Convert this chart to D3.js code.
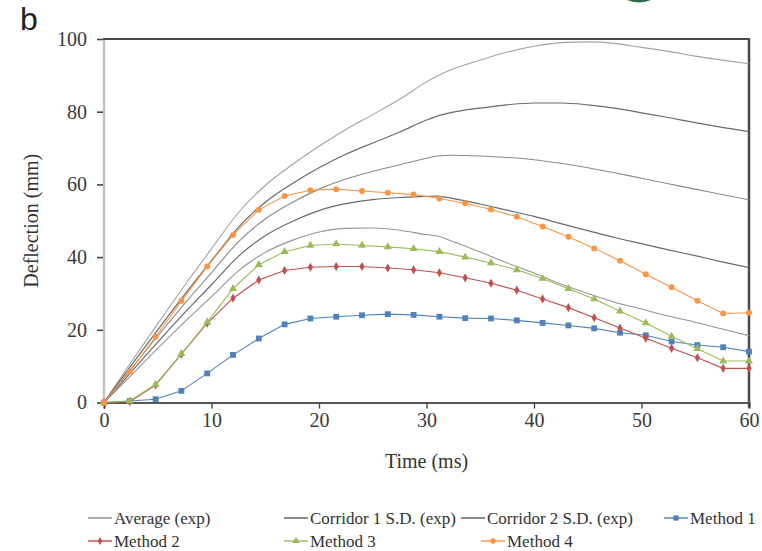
<!DOCTYPE html>
<html>
<head>
<meta charset="utf-8">
<script src="https://cdn.jsdelivr.net/npm/d3@7"></script>
<style>
  html, body { margin: 0; padding: 0; background: #fff; }
  svg { display: block; }
  text { font-family: "Liberation Serif", "Times New Roman", serif; fill: #333; }
</style>
</head>
<body>
<svg id="chart" width="762" height="551"></svg>
<script>
// ---- Experimental corridor (time in ms, deflection in mm) ----
const expTime = [0, 2.5, 5, 7.5, 10, 12.5, 15, 17.5, 20, 22.5, 25, 27.5, 30, 31, 32.5, 35, 37.5, 40, 42.5, 45, 47.5, 50, 52.5, 55, 57.5, 60];
const average = [0, 9.2, 18.3, 27.2, 35.7, 44.2, 50.5, 55, 58.7, 61.5, 63.6, 65.4, 67.2, 67.8, 68.0, 67.8, 67.4, 66.8, 65.8, 64.6, 63.2, 61.7, 60.2, 58.7, 57.2, 55.8];
const corridor1Upper = [0, 10.1, 20, 29.7, 39, 48.2, 55.1, 60.2, 64.6, 68.3, 71.4, 74.4, 77.7, 78.8, 79.9, 81, 81.9, 82.4, 82.4, 81.9, 81, 79.7, 78.4, 77, 75.7, 74.5];
const corridor1Lower = [0, 8.3, 16.6, 24.7, 32.4, 40.2, 45.9, 49.8, 52.8, 54.7, 55.8, 56.4, 56.7, 56.8, 56.1, 54.6, 52.9, 51.2, 49.2, 47.3, 45.4, 43.7, 42, 40.4, 38.7, 37.1];
const corridor2Upper = [0, 11, 21.7, 32.2, 42.3, 52.2, 59.7, 65.4, 70.5, 75.1, 79.2, 83.4, 88.2, 89.8, 91.8, 94.2, 96.4, 98, 99, 99.2, 98.8, 97.7, 96.6, 95.3, 94.2, 93.2];
const corridor2Lower = [0, 7.4, 14.9, 22.2, 29.1, 36.2, 41.3, 44.6, 46.9, 47.9, 48.0, 47.4, 46.2, 45.8, 44.2, 41.4, 38.4, 35.6, 32.6, 30.0, 27.6, 25.7, 23.8, 22.1, 20.2, 18.4];

// ---- Simulated responses, sampled every 2.4 ms ----
const simTime = [0, 2.4, 4.8, 7.2, 9.6, 12, 14.4, 16.8, 19.2, 21.6, 24, 26.4, 28.8, 31.2, 33.6, 36, 38.4, 40.8, 43.2, 45.6, 48, 50.4, 52.8, 55.2, 57.6, 60];
const method1 = [0, 0.4, 0.9, 3.2, 8.0, 13.1, 17.6, 21.5, 23.1, 23.6, 24.0, 24.3, 24.1, 23.6, 23.2, 23.1, 22.6, 21.9, 21.2, 20.4, 19.2, 18.5, 16.8, 15.8, 15.2, 14.0];
const method2 = [0, 0.2, 4.8, 13.3, 21.8, 28.7, 33.7, 36.3, 37.2, 37.4, 37.4, 37.0, 36.5, 35.7, 34.3, 32.8, 30.9, 28.5, 26.1, 23.3, 20.5, 17.7, 14.9, 12.3, 9.4, 9.4];
const method3 = [0, 0.4, 5.0, 13.4, 22.1, 31.3, 37.9, 41.5, 43.2, 43.6, 43.2, 42.8, 42.3, 41.5, 40.0, 38.4, 36.5, 34.1, 31.3, 28.5, 25.1, 21.9, 18.2, 14.8, 11.4, 11.4];
const method4 = [0, 8.5, 18.1, 27.9, 37.4, 46.1, 53.0, 56.8, 58.4, 58.7, 58.2, 57.7, 57.2, 56.1, 54.8, 53.1, 51.1, 48.4, 45.6, 42.4, 39.0, 35.3, 31.7, 28.0, 24.5, 24.7];

// ---- Axis ticks ----
const xTicks = [0, 10, 20, 30, 40, 50, 60];
const yTicks = [0, 20, 40, 60, 80, 100];

const svg = d3.select("#chart");
const plotLeft = 104, plotRight = 749, plotTop = 39, plotBottom = 402.5;

const x = d3.scaleLinear().domain([0, 60]).range([plotLeft, plotRight]);
const y = d3.scaleLinear().domain([0, 100]).range([plotBottom, plotTop]);

// corner logo fragment
svg.append("ellipse").attr("cx", 639).attr("cy", -6).attr("rx", 17).attr("ry", 8.5)
  .attr("fill", "#2f6b47");

// panel letter
svg.append("text").attr("x", 20).attr("y", 30)
  .style("font-family", "'Liberation Sans', Arial, sans-serif")
  .style("font-size", "32px").style("fill", "#222").text("b");

// ---- frame: light left axis, dark top/right border ----
svg.append("line").attr("x1", plotLeft).attr("x2", plotLeft).attr("y1", plotTop).attr("y2", plotBottom)
  .attr("stroke", "#c4c4c4").attr("stroke-width", 2.5);
svg.append("line").attr("x1", plotLeft - 1).attr("x2", plotRight + 1).attr("y1", plotTop).attr("y2", plotTop)
  .attr("stroke", "#4a4a4a").attr("stroke-width", 2.2);
svg.append("line").attr("x1", plotRight).attr("x2", plotRight).attr("y1", plotTop).attr("y2", plotBottom + 5)
  .attr("stroke", "#4a4a4a").attr("stroke-width", 2.5);

// ---- axes ----
const yAxis = svg.append("g").attr("transform", `translate(${plotLeft - 1},0)`)
  .call(d3.axisLeft(y).tickValues(yTicks).tickSize(6).tickPadding(10).tickFormat(d3.format("d")));
yAxis.select(".domain").remove();
yAxis.selectAll(".tick line").attr("stroke", "#444").attr("stroke-width", 1.6);
yAxis.selectAll(".tick text").style("font-size", "20px").style("fill", "#3a3a3a")
  .style("font-family", "'Liberation Serif', serif");

const xAxis = svg.append("g").attr("transform", `translate(0,${plotBottom})`)
  .call(d3.axisBottom(x).tickValues(xTicks).tickSize(6).tickPadding(4).tickFormat(d3.format("d")));
xAxis.select(".domain").attr("stroke", "#555").attr("stroke-width", 2);
xAxis.selectAll(".tick line").attr("stroke", "#444").attr("stroke-width", 1.4);
xAxis.selectAll(".tick text").style("font-size", "20px").style("fill", "#3a3a3a")
  .style("font-family", "'Liberation Serif', serif");

// axis titles
svg.append("text").attr("x", (plotLeft + plotRight) / 2).attr("y", 468)
  .attr("text-anchor", "middle").style("font-size", "20px").text("Time (ms)");
svg.append("text").attr("transform", `translate(38,${(plotTop + plotBottom) / 2}) rotate(-90)`)
  .attr("text-anchor", "middle").style("font-size", "20px").text("Deflection (mm)");

// ---- experimental curves ----
const expLine = d3.line().x((d, i) => x(expTime[i])).y(d => y(d)).curve(d3.curveMonotoneX);
const expSeries = [
  { values: corridor2Upper, color: "#a2a2a2", w: 1.1 },
  { values: corridor2Lower, color: "#959595", w: 1.1 },
  { values: corridor1Upper, color: "#6a6a6a", w: 1.2 },
  { values: corridor1Lower, color: "#6a6a6a", w: 1.2 },
  { values: average, color: "#8a8a8a", w: 1.1 }
];
svg.append("g").selectAll("path").data(expSeries).join("path")
  .attr("d", s => expLine(s.values))
  .attr("fill", "none").attr("stroke", s => s.color).attr("stroke-width", s => s.w);

// ---- simulated curves with markers ----
const methods = [
  { name: "Method 1", values: method1, color: "#4f81bd", shape: d3.symbolSquare, size: 34 },
  { name: "Method 2", values: method2, color: "#c0504d", shape: d3.symbolDiamond, size: 24 },
  { name: "Method 3", values: method3, color: "#9bbb59", shape: d3.symbolTriangle, size: 28 },
  { name: "Method 4", values: method4, color: "#f79646", shape: d3.symbolCircle, size: 28 }
];
const simLine = d3.line().x((d, i) => x(simTime[i])).y(d => y(d));
const mg = svg.append("g");
methods.forEach(m => {
  mg.append("path").attr("d", simLine(m.values))
    .attr("fill", "none").attr("stroke", m.color).attr("stroke-width", 1.1);
  mg.append("g").selectAll("path").data(m.values).join("path")
    .attr("transform", (d, i) => `translate(${x(simTime[i])},${y(d)})`)
    .attr("d", d3.symbol().type(m.shape).size(m.size))
    .attr("fill", m.color);
});

// ---- legend ----
const legendItems = [
  { label: "Average (exp)", color: "#8a8a8a", lx: 88, ly: 518 },
  { label: "Corridor 1 S.D. (exp)", color: "#5a5a5a", lx: 284, ly: 518 },
  { label: "Corridor 2 S.D. (exp)", color: "#5a5a5a", lx: 461, ly: 518 },
  { label: "Method 1", color: methods[0].color, shape: methods[0], lx: 664, ly: 518 },
  { label: "Method 2", color: methods[1].color, shape: methods[1], lx: 88, ly: 541 },
  { label: "Method 3", color: methods[2].color, shape: methods[2], lx: 284, ly: 541 },
  { label: "Method 4", color: methods[3].color, shape: methods[3], lx: 481, ly: 541 }
];
const lg = svg.append("g");
legendItems.forEach(it => {
  lg.append("line").attr("x1", it.lx).attr("x2", it.lx + 24).attr("y1", it.ly).attr("y2", it.ly)
    .attr("stroke", it.color).attr("stroke-width", 1.4);
  if (it.shape) {
    lg.append("path").attr("transform", `translate(${it.lx + 12},${it.ly})`)
      .attr("d", d3.symbol().type(it.shape.shape).size(it.shape.size * 0.8)).attr("fill", it.color);
  }
  lg.append("text").attr("x", it.lx + 26).attr("y", it.ly + 5.5)
    .style("font-size", "17px").style("fill", "#333").text(it.label);
});
</script>
</body>
</html>
